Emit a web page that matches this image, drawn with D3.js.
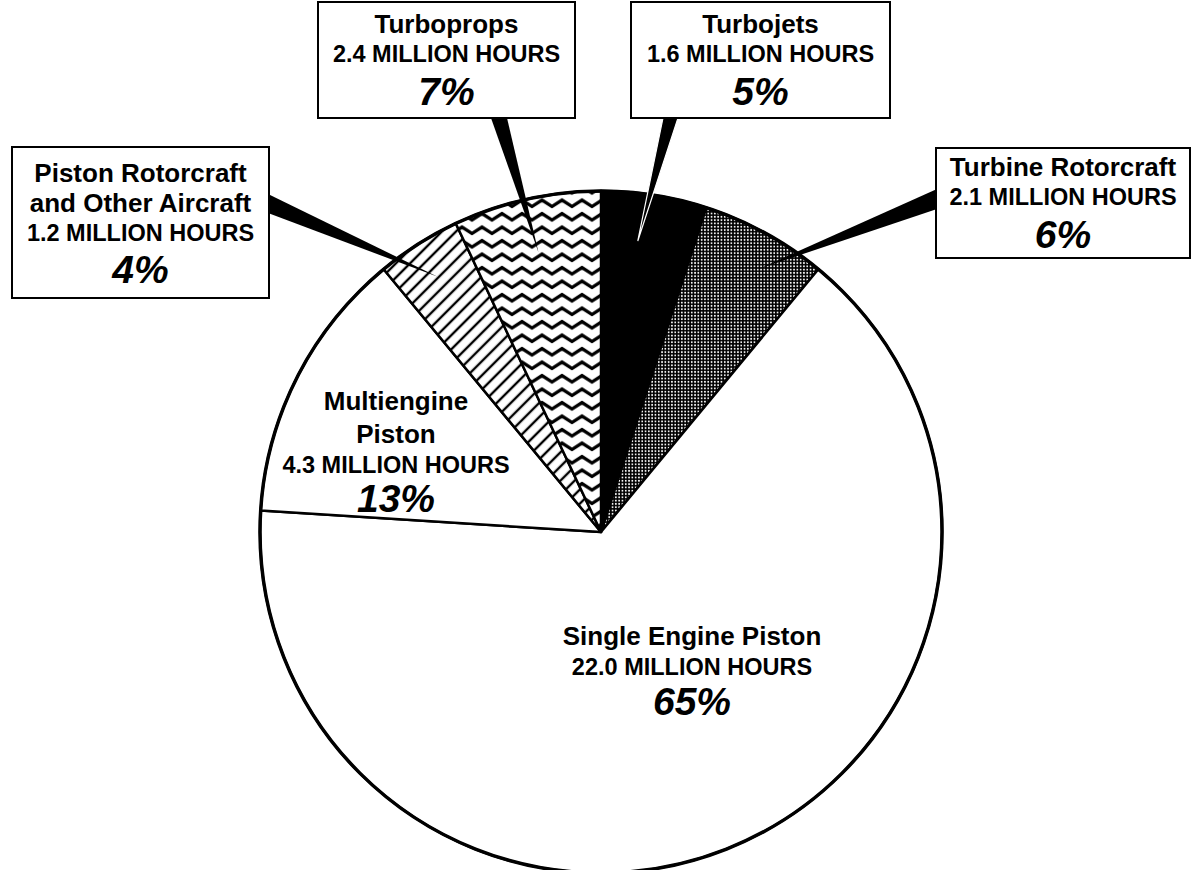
<!DOCTYPE html>
<html>
<head>
<meta charset="utf-8">
<script src="https://cdn.jsdelivr.net/npm/d3@7"></script>
<style>
  html, body { margin: 0; padding: 0; background: #fff; }
  svg text { font-family: "Liberation Sans", Arial, Helvetica, sans-serif; font-weight: bold; fill: #000; }
</style>
</head>
<body>
<svg id="chart" width="1198" height="870"></svg>
<script>
// ---------------- DATA ----------------
const categories = ["Turbojets", "Turbine Rotorcraft", "Single Engine Piston", "Multiengine Piston", "Piston Rotorcraft and Other Aircraft", "Turboprops"];
const titleLines = [["Turbojets"], ["Turbine Rotorcraft"], ["Single Engine Piston"], ["Multiengine", "Piston"], ["Piston Rotorcraft", "and Other Aircraft"], ["Turboprops"]];
const hours = [1.6, 2.1, 22.0, 4.3, 1.2, 2.4];
const percents = [5, 6, 65, 13, 4, 7];
const fills = ["black", "dots", "white", "white", "hatch", "waves"];

// ---------------- LAYOUT ----------------
const W = 1198, H = 870;
const cx = 601, cy = 532, R = 341;

const layout = [
  { type: "box", x: 631, y: 2, w: 259, h: 116, lines: [33, 62, 105], pointer: { base: [[663, 118], [678, 118]], frac: 0.4, rf: 0.86 }, whiteEdge: true },
  { type: "box", x: 936, y: 148, w: 254, h: 110, lines: [176, 205, 248], pointer: { base: [[937, 189], [937, 209]], frac: 0.6, rf: 0.9 } },
  { type: "inner", x: 692, lines: [645, 675, 715] },
  { type: "inner", x: 396, lines: [410, 443, 473, 512] },
  { type: "box", x: 12, y: 147, w: 257, h: 151, lines: [182, 212, 241, 283], pointer: { base: [[268, 194], [268, 213]], frac: 0.48, rf: 0.89 } },
  { type: "box", x: 318, y: 2, w: 257, h: 116, lines: [33, 62, 105], pointer: { base: [[491, 118], [507, 118]], frac: 0.5, rf: 0.84 } }
];

const svg = d3.select("#chart");
const defs = svg.append("defs");

const pDots = defs.append("pattern").attr("id", "dots").attr("patternUnits", "userSpaceOnUse")
  .attr("width", 3.3).attr("height", 3.3);
pDots.append("rect").attr("width", 3.3).attr("height", 3.3).attr("fill", "#000");
pDots.append("circle").attr("cx", 1.65).attr("cy", 1.65).attr("r", 0.95).attr("fill", "#fff");

const pHatch = defs.append("pattern").attr("id", "hatch").attr("patternUnits", "userSpaceOnUse")
  .attr("width", 10).attr("height", 10).attr("patternTransform", "rotate(45)");
pHatch.append("rect").attr("width", 10).attr("height", 10).attr("fill", "#fff");
pHatch.append("line").attr("x1", 5).attr("y1", 0).attr("x2", 5).attr("y2", 10)
  .attr("stroke", "#000").attr("stroke-width", 2.4);

const pWave = defs.append("pattern").attr("id", "waves").attr("patternUnits", "userSpaceOnUse")
  .attr("width", 20).attr("height", 13.5).attr("x", 1).attr("y", 2);
pWave.append("rect").attr("width", 20).attr("height", 13.5).attr("fill", "#fff");
pWave.append("path").attr("d", "M-5,10 L0,3.5 L10,10 L20,3.5 L25,10")
  .attr("fill", "none").attr("stroke", "#000").attr("stroke-width", 3.4).attr("stroke-linejoin", "round");

const fillOf = f => f === "black" ? "#000" : f === "white" ? "#fff" : `url(#${f})`;

const data = categories.map((c, i) => ({ name: c, value: percents[i], i }));
const pie = d3.pie().sort(null).value(d => d.value).startAngle(0).endAngle(2 * Math.PI);
const arcs = pie(data);
const arc = d3.arc().innerRadius(0).outerRadius(R);

const g = svg.append("g").attr("transform", `translate(${cx},${cy})`);
g.selectAll("path.slice").data(arcs).join("path")
  .attr("class", "slice")
  .attr("d", arc)
  .attr("fill", d => fillOf(fills[d.data.i]))
  .attr("stroke", "#000").attr("stroke-width", 2.5).attr("stroke-linejoin", "round");

g.append("circle").attr("r", R).attr("fill", "none").attr("stroke", "#000").attr("stroke-width", 3.5);

arcs.forEach(a => {
  const L = layout[a.data.i];
  if (L.type !== "box") return;
  const p = L.pointer;
  const ang = a.startAngle + (a.endAngle - a.startAngle) * p.frac;
  const tip = [cx + Math.sin(ang) * R * p.rf, cy - Math.cos(ang) * R * p.rf];
  svg.append("path")
    .attr("d", d3.line()([p.base[0], tip, p.base[1]]) + "Z")
    .attr("fill", "#000")
    .attr("stroke", L.whiteEdge ? "#fff" : "none")
    .attr("stroke-width", L.whiteEdge ? 1.2 : 0);
});

arcs.forEach(a => {
  const i = a.data.i;
  const L = layout[i];
  const lines = titleLines[i].map(t => ({ t, cls: "title" }))
    .concat([{ t: d3.format(".1f")(hours[i]) + " MILLION HOURS", cls: "hours" }, { t: percents[i] + "%", cls: "pct" }]);
  let x;
  if (L.type === "box") {
    svg.append("rect").attr("x", L.x).attr("y", L.y).attr("width", L.w).attr("height", L.h)
      .attr("fill", "#fff").attr("stroke", "#000").attr("stroke-width", 2);
    x = L.x + L.w / 2;
  } else {
    x = L.x;
  }
  lines.forEach((ln, k) => {
    svg.append("text")
      .attr("x", x).attr("y", L.lines[k])
      .attr("text-anchor", "middle")
      .attr("font-size", ln.cls === "title" ? 26 : ln.cls === "hours" ? 23.5 : 39)
      .attr("font-style", ln.cls === "pct" ? "italic" : "normal")
      .text(ln.t);
  });
});
</script>
</body>
</html>
